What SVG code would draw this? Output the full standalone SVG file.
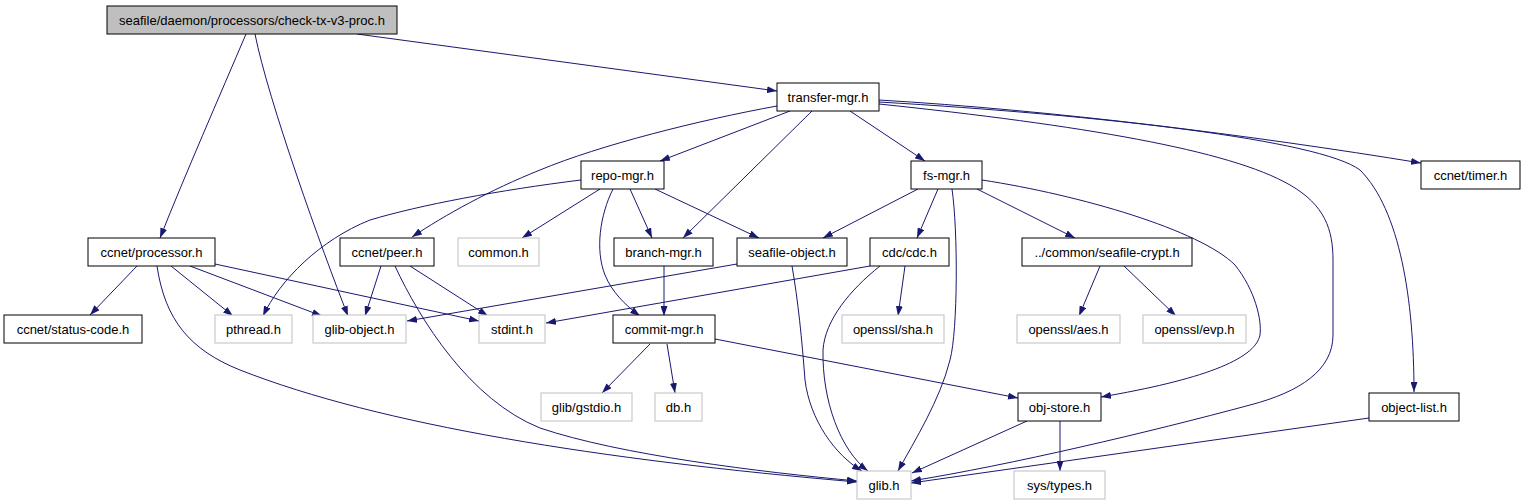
<svg xmlns="http://www.w3.org/2000/svg" width="1525" height="504" viewBox="0 0 1525 504">
<style>
.n rect{fill:#fff;stroke:#000;stroke-width:1}
.g rect{fill:#fff;stroke:#bfbfbf;stroke-width:1}
.r rect{fill:#bfbfbf;stroke:#000;stroke-width:1}
text{font-family:"Liberation Sans",Arial,Helvetica,sans-serif;font-size:13px;fill:#000;text-anchor:middle}
#edges path{fill:none;stroke:#191970;stroke-width:1;marker-end:url(#a)}
</style>
<defs>
<marker id="a" markerWidth="10" markerHeight="7" refX="10" refY="3.5" orient="auto" markerUnits="userSpaceOnUse"><path d="M0,0 L10,3.5 L0,7 z" fill="#191970"/></marker>
</defs>
<rect width="1525" height="504" fill="#fff"/>
<g id="edges">
<path d="M246,34 C220,95 185,175 160,238"/>
<path d="M255,34 C268,100 322,250 348,316"/>
<path d="M357,34 L777,91"/>
<path d="M790,111 L660,161"/>
<path d="M777,106 C700,120 600,145 540,170 C490,190 445,215 412,237"/>
<path d="M812,111 L683,238"/>
<path d="M850,111 L925,161"/>
<path d="M879,100 C1050,110 1250,135 1421,163"/>
<path d="M879,102 C1100,115 1320,140 1360,170 C1400,210 1414,300 1414,392"/>
<path d="M879,104 C1080,125 1230,150 1290,185 C1325,205 1333,230 1333,260 L1333,335 C1333,370 1300,392 1250,405 C1150,432 1010,465 911,481"/>
<path d="M581,180 C500,190 420,205 370,220 C320,240 280,280 263,316"/>
<path d="M600,189 L522,238"/>
<path d="M630,189 L652,238"/>
<path d="M655,189 L759,238"/>
<path d="M613,189 C600,215 595,250 605,275 C612,292 625,305 640,316"/>
<path d="M918,189 L823,238"/>
<path d="M938,189 L917,238"/>
<path d="M977,189 L1075,238"/>
<path d="M982,180 C1080,195 1200,230 1235,265 C1255,290 1262,320 1260,335 C1255,360 1200,380 1101,397"/>
<path d="M952,189 C958,230 958,330 950,360 C940,400 915,440 898,471"/>
<path d="M137,266 L90,315"/>
<path d="M171,266 L233,316"/>
<path d="M190,266 L322,316"/>
<path d="M215,264 L479,321"/>
<path d="M157,266 C165,320 190,350 240,370 C380,425 600,460 857,482"/>
<path d="M381,266 L365,316"/>
<path d="M410,266 L488,316"/>
<path d="M395,266 C420,320 470,400 540,428 C620,455 760,472 857,481"/>
<path d="M737,264 L407,321"/>
<path d="M792,266 C798,300 802,340 805,380 C810,420 835,455 862,471"/>
<path d="M880,266 C850,290 825,320 823,350 C822,400 840,450 868,471"/>
<path d="M870,266 L546,323"/>
<path d="M905,266 L898,316"/>
<path d="M1100,266 L1079,316"/>
<path d="M1124,266 L1176,316"/>
<path d="M664,266 L664,316"/>
<path d="M650,344 L602,393"/>
<path d="M667,344 L675,393"/>
<path d="M715,339 L1018,398"/>
<path d="M1027,421 L912,473"/>
<path d="M1060,421 L1060,471"/>
<path d="M1369,418 L911,483"/>
</g>
<g id="n_root" class="r"><rect x="107" y="6" width="290" height="28"/><text x="252" y="24.5">seafile/daemon/processors/check-tx-v3-proc.h</text></g>
<g id="n_transfer" class="n"><rect x="777" y="83" width="102" height="28"/><text x="828" y="101.5">transfer-mgr.h</text></g>
<g id="n_repo" class="n"><rect x="581" y="161" width="83" height="28"/><text x="622.5" y="179.5">repo-mgr.h</text></g>
<g id="n_fs" class="n"><rect x="911" y="161" width="71" height="28"/><text x="946.5" y="179.5">fs-mgr.h</text></g>
<g id="n_timer" class="n"><rect x="1421" y="161" width="99" height="28"/><text x="1470.5" y="179.5">ccnet/timer.h</text></g>
<g id="n_processor" class="n"><rect x="88" y="238" width="127" height="28"/><text x="151.5" y="256.5">ccnet/processor.h</text></g>
<g id="n_peer" class="n"><rect x="340" y="238" width="94" height="28"/><text x="387" y="256.5">ccnet/peer.h</text></g>
<g id="n_common" class="g"><rect x="458" y="238" width="81" height="28"/><text x="498.5" y="256.5">common.h</text></g>
<g id="n_branch" class="n"><rect x="614" y="238" width="99" height="28"/><text x="663.5" y="256.5">branch-mgr.h</text></g>
<g id="n_seafobj" class="n"><rect x="737" y="238" width="110" height="28"/><text x="792" y="256.5">seafile-object.h</text></g>
<g id="n_cdc" class="n"><rect x="870" y="238" width="79" height="28"/><text x="909.5" y="256.5">cdc/cdc.h</text></g>
<g id="n_crypt" class="n"><rect x="1022" y="238" width="170" height="28"/><text x="1107" y="256.5">../common/seafile-crypt.h</text></g>
<g id="n_status" class="n"><rect x="4" y="315" width="138" height="28"/><text x="73" y="333.5">ccnet/status-code.h</text></g>
<g id="n_pthread" class="g"><rect x="215" y="315" width="77" height="28"/><text x="253.5" y="333.5">pthread.h</text></g>
<g id="n_globj" class="g"><rect x="313" y="315" width="93" height="28"/><text x="359.5" y="333.5">glib-object.h</text></g>
<g id="n_stdint" class="g"><rect x="479" y="315" width="66" height="28"/><text x="512" y="333.5">stdint.h</text></g>
<g id="n_commit" class="n"><rect x="613" y="315" width="102" height="28"/><text x="664" y="333.5">commit-mgr.h</text></g>
<g id="n_sha" class="g"><rect x="842" y="315" width="102" height="28"/><text x="893" y="333.5">openssl/sha.h</text></g>
<g id="n_aes" class="g"><rect x="1017" y="315" width="103" height="28"/><text x="1068.5" y="333.5">openssl/aes.h</text></g>
<g id="n_evp" class="g"><rect x="1143" y="315" width="103" height="28"/><text x="1194.5" y="333.5">openssl/evp.h</text></g>
<g id="n_gstdio" class="g"><rect x="541" y="393" width="91" height="28"/><text x="586.5" y="411.5">glib/gstdio.h</text></g>
<g id="n_db" class="g"><rect x="655" y="393" width="47" height="28"/><text x="678.5" y="411.5">db.h</text></g>
<g id="n_objstore" class="n"><rect x="1018" y="393" width="83" height="28"/><text x="1059.5" y="411.5">obj-store.h</text></g>
<g id="n_objlist" class="n"><rect x="1369" y="393" width="90" height="28"/><text x="1414" y="411.5">object-list.h</text></g>
<g id="n_glib" class="g"><rect x="857" y="471" width="54" height="28"/><text x="884" y="489.5">glib.h</text></g>
<g id="n_systypes" class="g"><rect x="1014" y="471" width="91" height="28"/><text x="1059.5" y="489.5">sys/types.h</text></g>
</svg>
